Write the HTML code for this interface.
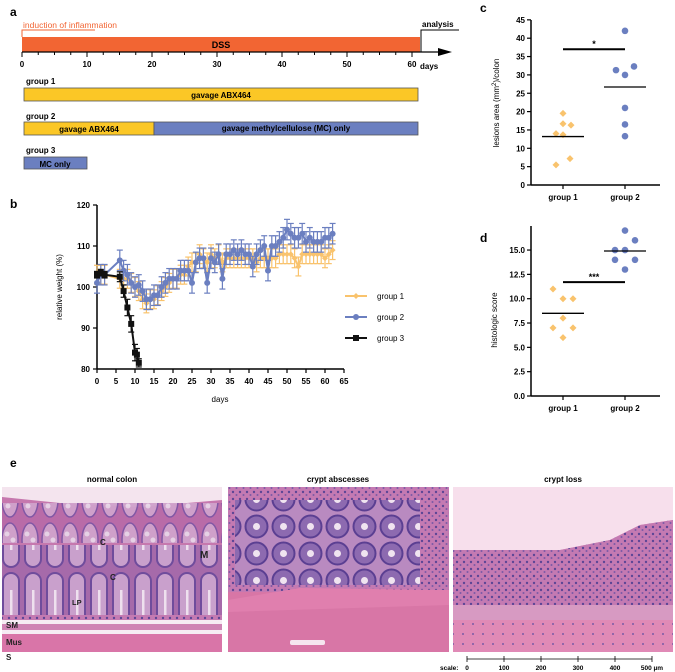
<!DOCTYPE html>
<html><head><meta charset="utf-8"><style>
body{margin:0;background:#fff;}
svg{display:block;font-family:"Liberation Sans",Arial,sans-serif;}
</style></head><body>
<svg id="fig" width="675" height="672" viewBox="0 0 675 672">
<defs>
<pattern id="gob" width="20" height="40" patternUnits="userSpaceOnUse">
<rect width="20" height="40" fill="#b86aa8"/>
<ellipse cx="10" cy="20" rx="8" ry="17" fill="#cfa2cb" stroke="#7d55a5" stroke-width="1.5"/>
<circle cx="7" cy="14" r="2.5" fill="#e8d6e8"/><circle cx="13" cy="20" r="2.5" fill="#e8d6e8"/><circle cx="8" cy="26" r="2.5" fill="#e8d6e8"/>
</pattern>
<pattern id="cryptA" width="22" height="95" patternUnits="userSpaceOnUse">
<rect width="22" height="95" fill="#a66aaa"/>
<rect x="3" y="3" width="16" height="89" rx="8" fill="#c9a0cc" stroke="#6f4c9c" stroke-width="2"/>
<rect x="10" y="20" width="2.5" height="55" fill="#eee0ee"/>
</pattern>
<pattern id="cryptB" width="27" height="27" patternUnits="userSpaceOnUse">
<rect width="27" height="27" fill="#b98ac0"/>
<circle cx="13.5" cy="13.5" r="11" fill="#8d6ab0" stroke="#5b3f92" stroke-width="2"/>
<circle cx="13.5" cy="13.5" r="3.5" fill="#f0e4f0"/>
</pattern>
<pattern id="dots" width="7" height="7" patternUnits="userSpaceOnUse">
<rect width="7" height="7" fill="#c47ab2"/>
<circle cx="2" cy="2" r="1.2" fill="#5d4696"/><circle cx="5.5" cy="5" r="1" fill="#7a5aa6"/>
</pattern>
<pattern id="dotsL" width="10" height="10" patternUnits="userSpaceOnUse">
<rect width="10" height="10" fill="#e08ab6"/>
<circle cx="3" cy="4" r="1" fill="#7a5aa6"/>
</pattern>
</defs>

<!-- Panel a -->
<g>
<text x="10" y="16" font-size="12" font-weight="bold">a</text>
<text x="23" y="28" font-size="8.5" fill="#f26533">induction of inflammation</text>
<polyline points="22,37 22,30 95,30" fill="none" stroke="#f26533" stroke-width="1"/>
<rect x="22" y="37" width="398" height="15" fill="#f26533"/>
<text x="221" y="48" font-size="9" font-weight="bold" text-anchor="middle">DSS</text>
<line x1="22" y1="52" x2="440" y2="52" stroke="#000" stroke-width="1.2"/>
<polygon points="438,48 452,52 438,56" fill="#000"/>
<g id="tlticks"></g>
<text x="420" y="69" font-size="8" font-weight="bold">days</text>
<polyline points="421,52 421,30 459,30" fill="none" stroke="#000" stroke-width="1"/>
<text x="422" y="27" font-size="8" font-weight="bold">analysis</text>
<text x="26" y="84" font-size="8" font-weight="bold">group 1</text>
<rect x="24" y="88" width="394" height="13" fill="#fbc726" stroke="#555" stroke-width="0.8"/>
<text x="221" y="98" font-size="8" font-weight="bold" text-anchor="middle">gavage ABX464</text>
<text x="26" y="119" font-size="8" font-weight="bold">group 2</text>
<rect x="24" y="122" width="130" height="13" fill="#fbc726" stroke="#555" stroke-width="0.8"/>
<rect x="154" y="122" width="264" height="13" fill="#6b7fc0" stroke="#555" stroke-width="0.8"/>
<text x="89" y="132" font-size="8" font-weight="bold" text-anchor="middle">gavage ABX464</text>
<text x="286" y="131" font-size="8" font-weight="bold" text-anchor="middle">gavage methylcellulose (MC) only</text>
<text x="26" y="153" font-size="8" font-weight="bold">group 3</text>
<rect x="24" y="157" width="63" height="12" fill="#6b7fc0" stroke="#555" stroke-width="0.8"/>
<text x="55" y="167" font-size="8" font-weight="bold" text-anchor="middle">MC only</text>
</g>

<!-- Panel b -->
<g id="pb">
<text x="10" y="208" font-size="12" font-weight="bold">b</text>
<text transform="translate(62,287) rotate(-90)" font-size="8" text-anchor="middle">relative weight (%)</text>
<text x="220" y="402" font-size="8" text-anchor="middle">days</text>
</g>

<!-- Panel c -->
<g id="pc">
<text x="480" y="12" font-size="12" font-weight="bold">c</text>
<text transform="translate(499,103) rotate(-90)" font-size="8" text-anchor="middle">lesions area (mm<tspan dy="-3" font-size="6">2</tspan><tspan dy="3">)/colon</tspan></text>
</g>

<!-- Panel d -->
<g id="pd">
<text x="480" y="242" font-size="12" font-weight="bold">d</text>
<text transform="translate(497,320) rotate(-90)" font-size="8" text-anchor="middle">histologic score</text>
</g>

<!-- Panel e -->
<g>
<text x="10" y="467" font-size="12" font-weight="bold">e</text>
<text x="112" y="482" font-size="8" font-weight="bold" text-anchor="middle">normal colon</text>
<text x="338" y="482" font-size="8" font-weight="bold" text-anchor="middle">crypt abscesses</text>
<text x="563" y="482" font-size="8" font-weight="bold" text-anchor="middle">crypt loss</text>
<g>
<rect x="2" y="487" width="220" height="165" fill="#c678ae"/>
<polygon points="2,487 222,487 222,500 140,507 60,503 2,497" fill="#f4e4ee"/>
<rect x="2" y="503" width="220" height="40" fill="url(#gob)" opacity="0.95"/>
<rect x="2" y="543" width="220" height="0" fill="none"/>
<rect x="2" y="545" width="220" height="95" fill="url(#cryptA)" transform="translate(0,0)"/>
<rect x="2" y="615" width="220" height="6" fill="url(#dots)"/>
<rect x="2" y="620" width="220" height="4" fill="#f6ecf3"/>
<rect x="2" y="624" width="220" height="6" fill="#cf84b4"/>
<rect x="2" y="630" width="220" height="4" fill="#f6ecf3"/>
<rect x="2" y="634" width="220" height="18" fill="#d975a8"/>
<text x="100" y="545" font-size="8" font-weight="bold" fill="#222">C</text>
<text x="110" y="580" font-size="8" font-weight="bold" fill="#222">C</text>
<text x="200" y="558" font-size="10" font-weight="bold" fill="#222">M</text>
<text x="72" y="605" font-size="7.5" font-weight="bold" fill="#222">LP</text>
<text x="6" y="628" font-size="8" font-weight="bold" fill="#222">SM</text>
<text x="6" y="645" font-size="8" font-weight="bold" fill="#222">Mus</text>
<text x="6" y="660" font-size="8" font-weight="bold" fill="#222">S</text>
</g>
<g>
<rect x="228" y="487" width="221" height="165" fill="#d876a6"/>
<rect x="228" y="487" width="221" height="105" fill="url(#dots)"/>
<rect x="235" y="500" width="185" height="85" fill="url(#cryptB)"/>
<polygon points="228,600 300,588 449,590 449,605 228,612" fill="#e07fae"/>
<rect x="490" y="0" width="0" height="0"/>
<rect x="290" y="640" width="35" height="5" rx="2" fill="#f5e6ef"/>
</g>
<g>
<rect x="453" y="487" width="220" height="165" fill="#d97fb0"/>
<polygon points="453,487 673,487 673,520 640,525 610,540 560,550 453,550" fill="#f7dfec"/>
<polygon points="453,550 560,550 610,540 640,525 673,520 673,605 453,605" fill="url(#dots)"/>
<rect x="453" y="605" width="220" height="15" fill="#d79ac2"/>
<rect x="453" y="620" width="220" height="32" fill="url(#dotsL)"/>
</g>
<g>
<text x="440" y="670" font-size="6.5" font-weight="bold">scale:</text>
<line x1="467" y1="659" x2="652" y2="659" stroke="#000" stroke-width="0.8"/>
<g id="scaleTicks"></g>
</g>
</g>
</svg>
<script>
const NS="http://www.w3.org/2000/svg";
function mk(tag,attrs,parent,txt){const e=document.createElementNS(NS,tag);for(const k in attrs)e.setAttribute(k,attrs[k]);if(txt!==undefined)e.textContent=txt;parent.appendChild(e);return e;}

// ---------- Panel a timeline ticks
const tl=document.getElementById('tlticks');
const tlX=d=>22+d*6.5;
for(let d=0;d<=60;d+=2.5){const big=d%10===0;
 const t=mk('line',{x1:tlX(d),x2:tlX(d),y1:52,y2:big?57:55,stroke:'#000','stroke-width':1},tl);
 
 
 if(big){const l=mk('text',{x:tlX(d),y:67,'font-size':8,'font-weight':'bold','text-anchor':'middle'},tl,String(d));
 
 }}

// ---------- Panel b data
const daysB=[0,1,2,6,7,8,9,10,11,12,13,14,15,16,17,18,19,20,21,22,23,24,25,26,27,28,29,30,31,32,33,34,35,36,37,38,39,40,41,42,43,44,45,46,47,48,49,50,51,52,53,54,55,56,57,58,59,60,61,62];
const g1Weight=[103,103,103,102,102,102,101,100,99,97,96,97,97,98,99,100,101,102,102,103,103,105,106,106,108,107,106,108,107,108,106,107,107,107,107,107,107,107,107,106,107,107,107,107,107,108,108,108,108,107,105,108,108,108,108,108,108,107,108,109];
const g2Weight=[101,103,103,106.5,104,103,101,100,100.5,99,97,97,98,98,100,101,102,102,102,104,104,104,101,106,107,107,101,107,106,108,102,108,108,109,108,109,108,108,105,108,109,110,104,110,110,111,112,114,113,112,112,113,111,112,111,111,111,112,112,113];
const g1Err=2.3, g2Err=2.5;
const daysG3=[0,1,2,6,7,8,9,10,10.5,11];
const g3Weight=[103,103.5,103,102.5,99,95,91,84,83.5,81.5];
const g3Err=[0.8,0.8,0.8,1.2,1.5,2,2,2,1.5,1];
const yTicksB=[80,90,100,110,120];
const xTicksB=[0,5,10,15,20,25,30,35,40,45,50,55,60,65];
const bx=d=>97+d*3.8, by=v=>369-(v-80)*4.1;
const pb=document.getElementById('pb');
let a=mk('line',{x1:97,y1:205,x2:97,y2:369,stroke:'#000','stroke-width':1.5},pb);

a=mk('line',{x1:97,y1:369,x2:344,y2:369,stroke:'#000','stroke-width':1.5},pb);

yTicksB.forEach(v=>{mk('line',{x1:93,x2:97,y1:by(v),y2:by(v),stroke:'#000','stroke-width':1.2},pb);
 const t=mk('text',{x:90,y:by(v)+3,'font-size':8,'font-weight':'bold','text-anchor':'end'},pb,String(v));
 
 });
xTicksB.forEach(v=>{mk('line',{x1:bx(v),x2:bx(v),y1:369,y2:373,stroke:'#000','stroke-width':1.2},pb);
 const t=mk('text',{x:bx(v),y:384,'font-size':8,'font-weight':'bold','text-anchor':'middle'},pb,String(v));
 
 });
function series(days,vals,errs,color,shape,name){
 const g=mk('g',{},pb);
 
 
 days.forEach((d,i)=>{const e=Array.isArray(errs)?errs[i]:errs;const x=bx(d);
  mk('line',{x1:x,x2:x,y1:by(vals[i]-e),y2:by(vals[i]+e),stroke:color,'stroke-width':1.2},g);
  mk('line',{x1:x-3,x2:x+3,y1:by(vals[i]+e),y2:by(vals[i]+e),stroke:color,'stroke-width':1.2},g);
  mk('line',{x1:x-3,x2:x+3,y1:by(vals[i]-e),y2:by(vals[i]-e),stroke:color,'stroke-width':1.2},g);});
 mk('polyline',{points:days.map((d,i)=>bx(d)+','+by(vals[i])).join(' '),fill:'none',stroke:color,'stroke-width':2},g);
 days.forEach((d,i)=>{const x=bx(d),y=by(vals[i]);let m;
  if(shape==='c')m=mk('circle',{cx:x,cy:y,r:3,fill:color},g);
  else if(shape==='s')m=mk('rect',{x:x-3,y:y-3,width:6,height:6,fill:color},g);
  else m=mk('polygon',{points:`${x},${y-3} ${x+3},${y} ${x},${y+3} ${x-3},${y}`,fill:color},g);
  
  });
}
series(daysB,g1Weight,g1Err,'#f9c36d','d','series-group1');
series(daysB,g2Weight,g2Err,'#6b7fc0','c','series-group2');
series(daysG3,g3Weight,g3Err,'#111','s','series-group3');
const legB=[['group 1','#f9c36d','d',296],['group 2','#6b7fc0','c',317],['group 3','#111','s',338]];
legB.forEach(l=>{const g=mk('g',{},pb);
 
 
 mk('line',{x1:345,x2:367,y1:l[3],y2:l[3],stroke:l[1],'stroke-width':2},g);
 if(l[2]==='c')mk('circle',{cx:356,cy:l[3],r:3,fill:l[1]},g);
 else if(l[2]==='s')mk('rect',{x:353,y:l[3]-3,width:6,height:6,fill:l[1]},g);
 else mk('polygon',{points:`356,${l[3]-3} 359,${l[3]} 356,${l[3]+3} 353,${l[3]}`,fill:l[1]},g);
 mk('text',{x:377,y:l[3]+3,'font-size':8},g,l[0]);});

// ---------- Panel c
const catsC=['group 1','group 2'];
const lesionG1=[19.5,16.7,16.3,14,13.7,7.2,5.5];
const lesionG1Off=[0,0,8,-7,0,7,-7];
const lesionG2=[42,31.3,32.3,30,21,16.5,13.3];
const lesionG2Off=[0,-9,9,0,0,0,0];
const lesionMeans=[13.2,26.7];
const sigC=37;
const yTicksC=[0,5,10,15,20,25,30,35,40,45];
const cy=v=>185-v*3.67, catX=i=>[563,625][i];
function dotPanel(gid,yf,ticks,tickFmt,top,bottom,g1,g1o,g2,g2o,means,sig,star,pfx){
 const g=document.getElementById(gid);
 let ax=mk('line',{x1:531,y1:top,x2:531,y2:bottom,stroke:'#000','stroke-width':1.5},g);
 
 ax=mk('line',{x1:531,y1:bottom,x2:660,y2:bottom,stroke:'#000','stroke-width':1.5},g);
 
 ticks.forEach(v=>{mk('line',{x1:527,x2:531,y1:yf(v),y2:yf(v),stroke:'#000','stroke-width':1.2},g);
  const t=mk('text',{x:525,y:yf(v)+3,'font-size':8,'font-weight':'bold','text-anchor':'end'},g,tickFmt(v));
  
  });
 catsC.forEach((c,i)=>{mk('line',{x1:catX(i),x2:catX(i),y1:bottom,y2:bottom+4,stroke:'#000','stroke-width':1.2},g);
  const t=mk('text',{x:catX(i),y:bottom+15,'font-size':8,'font-weight':'bold','text-anchor':'middle'},g,c);
  
  });
 g1.forEach((v,i)=>{const x=catX(0)+g1o[i],y=yf(v);
  const m=mk('polygon',{points:`${x},${y-3.5} ${x+3.5},${y} ${x},${y+3.5} ${x-3.5},${y}`,fill:'#f9c36d'},g);
  
  });
 g2.forEach((v,i)=>{const m=mk('circle',{cx:catX(1)+g2o[i],cy:yf(v),r:3.3,fill:'#6b7fc0'},g);
  
  });
 means.forEach((v,i)=>{const m=mk('line',{x1:catX(i)-21,x2:catX(i)+21,y1:yf(v),y2:yf(v),stroke:'#000','stroke-width':1.3},g);
  
  });
 const s=mk('line',{x1:catX(0),x2:catX(1),y1:yf(sig),y2:yf(sig),stroke:'#000','stroke-width':2},g);
 
 
 const st=mk('text',{x:(catX(0)+catX(1))/2,y:yf(sig)-2,'font-size':9,'font-weight':'bold','text-anchor':'middle'},g,star);
 
 
}
dotPanel('pc',cy,yTicksC,v=>String(v),20,185,lesionG1,lesionG1Off,lesionG2,lesionG2Off,lesionMeans,sigC,'*','c');

// ---------- Panel d
const histoG1=[11,10,10,8,7,7,6];
const histoG1Off=[-10,0,10,0,-10,10,0];
const histoG2=[17,16,15,15,14,14,13];
const histoG2Off=[0,10,-10,0,-10,10,0];
const histoMeans=[8.5,14.9];
const sigD=11.7;
const yTicksD=[0,2.5,5,7.5,10,12.5,15];
const dy=v=>396-v*9.73;
dotPanel('pd',dy,yTicksD,v=>v.toFixed(1),226,396,histoG1,histoG1Off,histoG2,histoG2Off,histoMeans,sigD,'***','d');

// ---------- scale bar
const scaleVals=[0,100,200,300,400,500];
const st=document.getElementById('scaleTicks');
scaleVals.forEach(v=>{const x=467+v*0.37;
 mk('line',{x1:x,x2:x,y1:656,y2:662,stroke:'#000','stroke-width':0.8},st);
 const t=mk('text',{x:x,y:670,'font-size':6.5,'font-weight':'bold','text-anchor':'middle'},st,v===500?'500 µm':String(v));
 
 });
</script>
</body></html>
